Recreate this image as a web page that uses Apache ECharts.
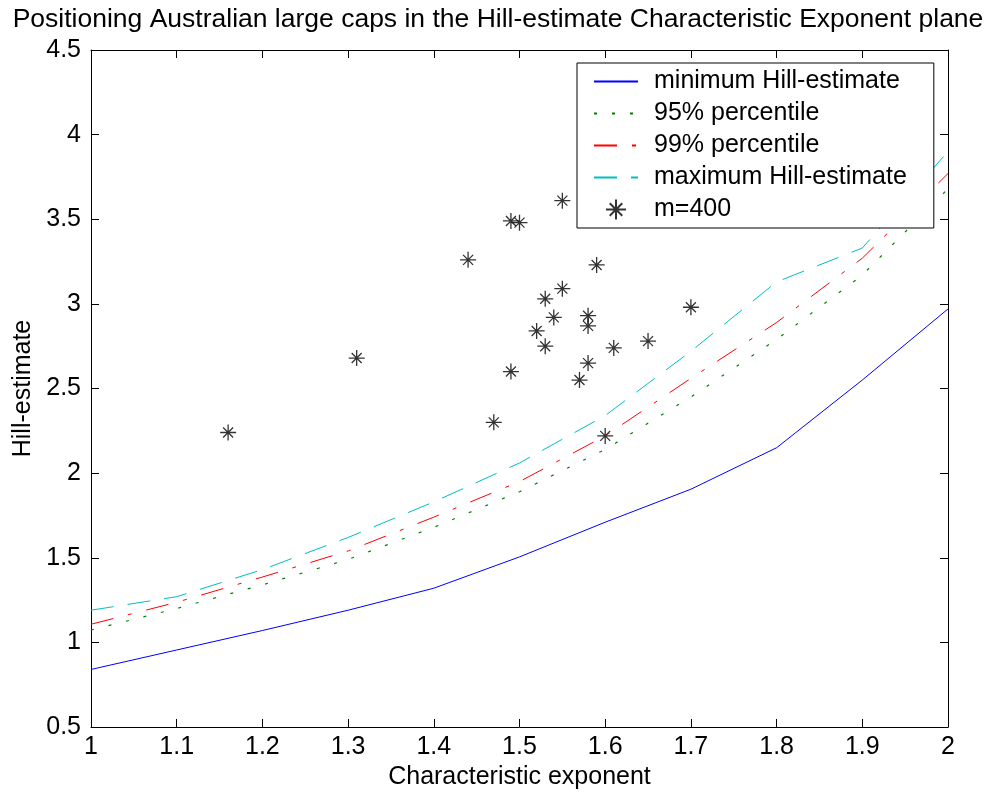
<!DOCTYPE html>
<html>
<head>
<meta charset="utf-8">
<script src="https://cdn.jsdelivr.net/npm/echarts@6/dist/echarts.min.js"></script>
<style>
  html, body { margin: 0; padding: 0; background: #fff; }
  #main { width: 996px; height: 796px; }
</style>
</head>
<body>
<div id="main"></div>
<script>
// characteristic exponent grid (x) for the curves
var exponents = [1.0, 1.1, 1.2, 1.3, 1.4, 1.5, 1.6, 1.7, 1.8, 1.9, 2.0];
var minHill = [0.84, 0.955, 1.07, 1.19, 1.32, 1.505, 1.71, 1.905, 2.15, 2.55, 2.97];
var pct95 = [1.073, 1.20, 1.34, 1.49, 1.68, 1.89, 2.14, 2.45, 2.79, 3.17, 3.68];
var pct99 = [1.107, 1.237, 1.386, 1.54, 1.74, 1.95, 2.22, 2.56, 2.89, 3.27, 3.77];
var maxHill = [1.19, 1.27, 1.43, 1.62, 1.83, 2.06, 2.34, 2.72, 3.13, 3.33, 3.90];

// the large caps, m=400
var stockAlpha = [1.16, 1.31, 1.44, 1.47, 1.49, 1.50, 1.49, 1.52, 1.53, 1.53, 1.54, 1.55, 1.55,
                  1.57, 1.58, 1.58, 1.58, 1.59, 1.60, 1.61, 1.65, 1.70];
var stockHill = [2.24, 2.68, 3.26, 2.30, 3.49, 3.48, 2.60, 2.84, 3.03, 2.75, 2.92, 3.61, 3.09,
                 2.55, 2.93, 2.87, 2.65, 3.23, 2.22, 2.74, 2.78, 2.98];

var seriesNames = ['minimum Hill-estimate', '95% percentile', '99% percentile', 'maximum Hill-estimate', 'm=400'];

function pairs(xs, ys) {
    return xs.map(function (x, i) { return [x, ys[i]]; });
}

var FONT = 'Liberation Sans, Arial, sans-serif';
var STAR = 'path://M8,0 L8,16 M0,8 L16,8 M3,3 L13,13 M3,13 L13,3';

var chart = echarts.init(document.getElementById('main'), null, {renderer: 'canvas'});

function axisBase() {
    return {
        type: 'value',
        axisLine: {show: true, lineStyle: {color: '#000', width: 1}},
        axisTick: {show: true, inside: true, length: 8, lineStyle: {color: '#000'}},
        splitLine: {show: false}
    };
}

var xBottom = Object.assign(axisBase(), {
    position: 'bottom', min: 1, max: 2, interval: 0.1,
    name: 'Characteristic exponent', nameLocation: 'middle', nameGap: 38,
    nameTextStyle: {fontFamily: FONT, fontSize: 25, color: '#000'},
    axisLabel: {fontFamily: FONT, fontSize: 25, color: '#000', margin: 8,
        formatter: function (v) { return String(+v.toFixed(1)); }}
});
var xTop = Object.assign(axisBase(), {
    position: 'top', min: 1, max: 2, interval: 0.1, axisLabel: {show: false}
});
var yLeft = Object.assign(axisBase(), {
    position: 'left', min: 0.5, max: 4.5, interval: 0.5,
    name: 'Hill-estimate', nameLocation: 'middle', nameGap: 47,
    nameTextStyle: {fontFamily: FONT, fontSize: 25, color: '#000'},
    axisLabel: {fontFamily: FONT, fontSize: 25, color: '#000', margin: 10}
});
var yRight = Object.assign(axisBase(), {
    position: 'right', min: 0.5, max: 4.5, interval: 0.5, axisLabel: {show: false}
});

// hide the legend marker dot for the line entries, keep the star for the scatter
var legendData = seriesNames.map(function (n, i) {
    return i < 4 ? {name: n, itemStyle: {opacity: 0}} : {name: n};
});

chart.setOption({
    animation: false,
    backgroundColor: '#fff',
    title: {
        text: 'Positioning Australian large caps in the Hill-estimate Characteristic Exponent plane',
        left: 'center', top: 1,
        textStyle: {fontFamily: FONT, fontSize: 26.5, fontWeight: 'normal', color: '#000'}
    },
    grid: {left: 91, right: 48, top: 50, bottom: 69},
    legend: {
        data: legendData,
        orient: 'vertical',
        left: 577, top: 63,
        padding: [6, 27, 6, 16],
        itemWidth: 44, itemHeight: 20, itemGap: 7,
        backgroundColor: '#fff',
        borderColor: '#000', borderWidth: 1,
        textStyle: {fontFamily: FONT, fontSize: 25, color: '#000', padding: [0, 0, 0, 11]}
    },
    xAxis: [xBottom, xTop],
    yAxis: [yLeft, yRight],
    series: [
        {
            name: seriesNames[0], type: 'line', symbol: 'none',
            data: pairs(exponents, minHill),
            color: '#0000ff',
            lineStyle: {color: '#0000ff', width: 1, type: 'solid'}
        },
        {
            name: seriesNames[1], type: 'line', symbol: 'none',
            data: pairs(exponents, pct95),
            color: '#008000',
            lineStyle: {color: '#008000', width: 1.2, type: [3, 15]}
        },
        {
            name: seriesNames[2], type: 'line', symbol: 'none',
            data: pairs(exponents, pct99),
            color: '#ff0000',
            lineStyle: {color: '#ff0000', width: 1, type: [23, 15, 4, 15]}
        },
        {
            name: seriesNames[3], type: 'line', symbol: 'none',
            data: pairs(exponents, maxHill),
            color: '#00bfbf',
            lineStyle: {color: '#00bfbf', width: 1, type: [23, 14]}
        },
        {
            name: seriesNames[4], type: 'scatter',
            data: pairs(stockAlpha, stockHill),
            symbol: STAR, symbolSize: 16,
            itemStyle: {color: 'rgba(0,0,0,0)', borderColor: '#000', borderWidth: 1.3}
        }
    ]
});
</script>
</body>
</html>
